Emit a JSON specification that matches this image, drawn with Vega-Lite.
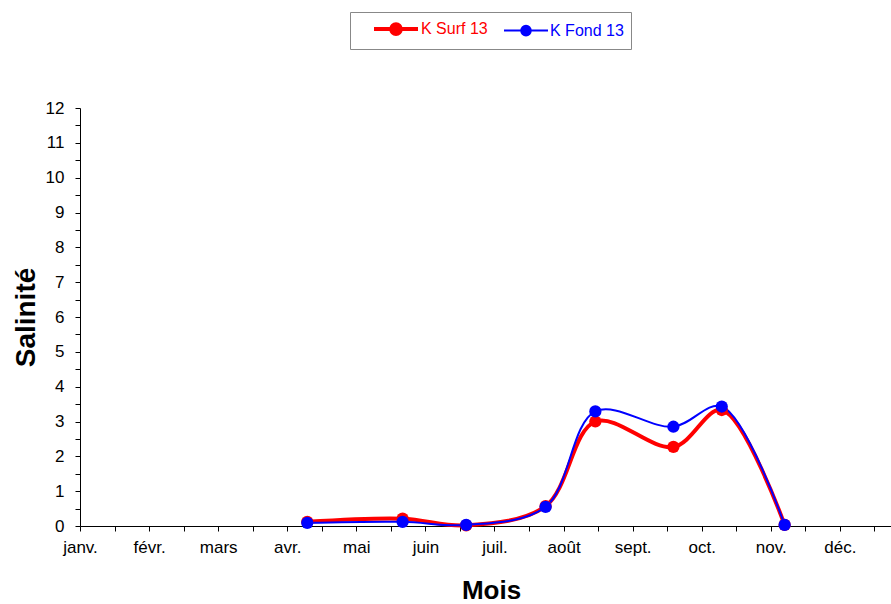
{
  "$schema": "https://vega.github.io/schema/vega-lite/v6.json",
  "autosize": {"type": "none"},
  "width": 811,
  "height": 418,
  "padding": {"left": 80, "top": 108, "right": 0, "bottom": 78},
  "background": "white",
  "config": {
    "font": "Liberation Sans",
    "view": {"stroke": null},
    "axis": {
      "domainColor": "black",
      "tickColor": "black",
      "labelColor": "black",
      "titleColor": "black",
      "labelFont": "Liberation Sans",
      "titleFont": "Liberation Sans",
      "labelFontSize": 17,
      "grid": false
    }
  },
  "data": {
    "values": [
      {"serie": "K Surf 13", "mois": 3.29, "salinite": 0.12},
      {"serie": "K Surf 13", "mois": 4.67, "salinite": 0.21},
      {"serie": "K Surf 13", "mois": 5.59, "salinite": 0.02},
      {"serie": "K Surf 13", "mois": 6.74, "salinite": 0.57},
      {"serie": "K Surf 13", "mois": 7.46, "salinite": 3.0},
      {"serie": "K Surf 13", "mois": 8.59, "salinite": 2.27},
      {"serie": "K Surf 13", "mois": 9.29, "salinite": 3.33},
      {"serie": "K Surf 13", "mois": 10.2, "salinite": 0.03},
      {"serie": "K Fond 13", "mois": 3.29, "salinite": 0.09},
      {"serie": "K Fond 13", "mois": 4.67, "salinite": 0.12},
      {"serie": "K Fond 13", "mois": 5.59, "salinite": 0.03},
      {"serie": "K Fond 13", "mois": 6.74, "salinite": 0.55},
      {"serie": "K Fond 13", "mois": 7.46, "salinite": 3.29},
      {"serie": "K Fond 13", "mois": 8.59, "salinite": 2.85},
      {"serie": "K Fond 13", "mois": 9.29, "salinite": 3.43},
      {"serie": "K Fond 13", "mois": 10.2, "salinite": 0.03}
    ]
  },
  "encoding": {
    "x": {
      "field": "mois",
      "type": "quantitative",
      "scale": {"domain": [0, 11.74], "nice": false, "zero": false},
      "axis": {
        "title": "Mois",
        "titleFontSize": 26,
        "titleFontWeight": "bold",
        "titlePadding": 22,
        "titleX": 411,
        "values": [0, 0.5, 1, 1.5, 2, 2.5, 3, 3.5, 4, 4.5, 5, 5.5, 6, 6.5, 7, 7.5, 8, 8.5, 9, 9.5, 10, 10.5, 11, 11.5],
        "labelExpr": "datum.value % 1 == 0 ? ['janv.','févr.','mars','avr.','mai','juin','juil.','août','sept.','oct.','nov.','déc.'][datum.value] : ''",
        "tickSize": 5,
        "labelPadding": 8,
        "labelFlush": false,
        "labelOverlap": false
      }
    },
    "y": {
      "field": "salinite",
      "type": "quantitative",
      "scale": {"domain": [0, 12], "nice": false},
      "axis": {
        "title": "Salinité",
        "titleFontSize": 28,
        "titleFontWeight": "bold",
        "titlePadding": 5,
        "values": [0, 0.5, 1, 1.5, 2, 2.5, 3, 3.5, 4, 4.5, 5, 5.5, 6, 6.5, 7, 7.5, 8, 8.5, 9, 9.5, 10, 10.5, 11, 11.5, 12],
        "labelExpr": "datum.value % 1 == 0 ? format(datum.value, 'd') : ''",
        "tickSize": 5,
        "labelPadding": 11,
        "labelOverlap": false
      }
    },
    "color": {
      "field": "serie",
      "type": "nominal",
      "scale": {"domain": ["K Surf 13", "K Fond 13"], "range": ["#ff0000", "#0000ff"]},
      "legend": {
        "title": " ",
        "titleOrient": "left",
        "titlePadding": 15,
        "titleFontSize": 15,
        "orient": "none",
        "legendX": 270,
        "legendY": -96,
        "direction": "horizontal",
        "strokeColor": "#888888",
        "padding": 7,
        "labelFontSize": 16,
        "labelFont": "Liberation Sans",
        "symbolSize": 256,
        "symbolOffset": 14,
        "labelOffset": 15,
        "columnPadding": 12,
        "symbolType": "M-2.75,0L2.75,0M-0.6,0A0.6,0.6 0 1,0 0.6,0A0.6,0.6 0 1,0 -0.6,0Z",
        "encode": {
          "symbols": {
            "update": {
              "fill": {"signal": "datum.value == 'K Surf 13' ? '#ff0000' : '#0000ff'"},
              "stroke": {"signal": "datum.value == 'K Surf 13' ? '#ff0000' : '#0000ff'"},
              "strokeWidth": {"signal": "datum.value == 'K Surf 13' ? 4 : 2"},
              "opacity": {"value": 1}
            }
          },
          "labels": {
            "update": {
              "fill": {"signal": "datum.value == 'K Surf 13' ? '#ff0000' : '#0000ff'"}
            }
          }
        }
      }
    }
  },
  "layer": [
    {
      "mark": {"type": "line", "interpolate": "catmull-rom"},
      "encoding": {
        "strokeWidth": {
          "field": "serie",
          "type": "nominal",
          "scale": {"domain": ["K Surf 13", "K Fond 13"], "range": [4, 2]},
          "legend": null
        }
      }
    },
    {
      "mark": {"type": "point", "filled": true, "opacity": 1, "size": 150, "shape": "circle"}
    }
  ]
}
